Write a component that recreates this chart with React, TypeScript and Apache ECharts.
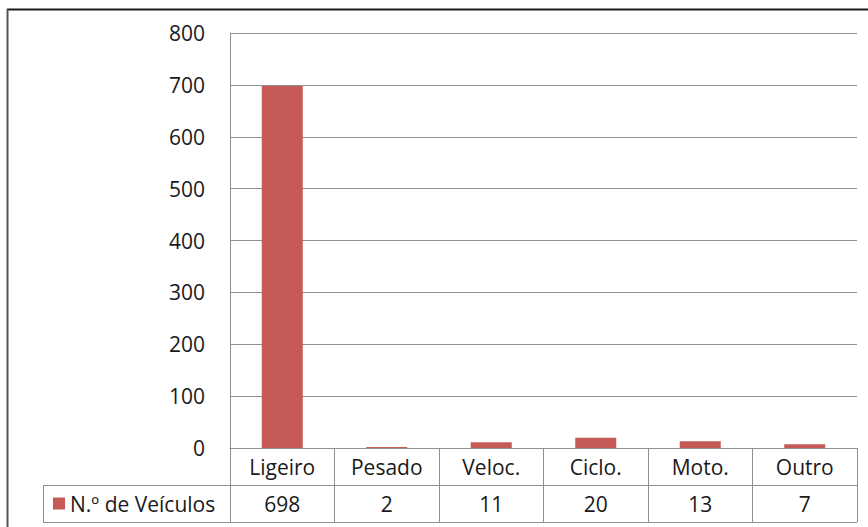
import React, { useEffect, useRef } from "react";
import * as echarts from "echarts";

const categories = ["Ligeiro", "Pesado", "Veloc.", "Ciclo.", "Moto.", "Outro"];
const seriesName = "N.º de Veículos";
const values = [698, 2, 11, 20, 13, 7];
const yMin = 0;
const yMax = 800;
const yStep = 100;

const W = 868;
const H = 527;
const GRID_LEFT = 230;
const GRID_TOP = 33;
const GRID_RIGHT = 11;
const GRID_BOTTOM = 79;
const ROW_H = 37;
const FONT = "'Open Sans', 'Noto Sans', sans-serif";
const LINE = "#8f8f8f";
const TEXT = "#1a1a1a";
const BAR = "#C55A57";

export default function App() {
  const ref = useRef<HTMLDivElement>(null);
  useEffect(() => {
    if (!ref.current) return;
    const chart = echarts.init(ref.current, null, { renderer: "svg" });
    const axisY = H - GRID_BOTTOM;
    const rightX = W - GRID_RIGHT;
    const legendLeft = 43;
    chart.setOption({
      animation: false,
      backgroundColor: "#ffffff",
      textStyle: { fontFamily: FONT },
      grid: { left: GRID_LEFT, top: GRID_TOP, right: GRID_RIGHT, bottom: GRID_BOTTOM, containLabel: false },
      legend: {
        data: [seriesName],
        left: 53,
        top: axisY + ROW_H + ROW_H / 2 - 12,
        padding: 0,
        icon: "rect",
        itemWidth: 12,
        itemHeight: 12,
        itemGap: 0,
        textStyle: { fontFamily: FONT, fontSize: 21, color: TEXT, lineHeight: 24 },
      },
      xAxis: {
        type: "category",
        data: categories,
        boundaryGap: true,
        axisLine: { show: true, lineStyle: { color: LINE, width: 1 } },
        axisTick: { show: true, interval: 0, length: ROW_H * 2, inside: false, lineStyle: { color: LINE, width: 1 } },
        axisLabel: {
          interval: 0,
          margin: 0,
          formatter: (v: string, i: number) => `{a|${v}}\n{b|${values[i]}}`,
          rich: {
            a: { fontFamily: FONT, fontSize: 21, color: TEXT, lineHeight: ROW_H, align: "center" },
            b: { fontFamily: FONT, fontSize: 21, color: TEXT, lineHeight: ROW_H, align: "center" },
          },
        },
      },
      yAxis: {
        type: "value",
        min: yMin,
        max: yMax,
        interval: yStep,
        axisLine: { show: true, lineStyle: { color: LINE, width: 1 } },
        axisTick: { show: false },
        axisLabel: { margin: 25, fontFamily: FONT, fontSize: 21, color: TEXT },
        splitLine: { show: true, lineStyle: { color: LINE, width: 1 } },
      },
      series: [
        {
          name: seriesName,
          type: "bar",
          data: values,
          barWidth: 41,
          itemStyle: { color: BAR },
        },
      ],
      graphic: [
        { type: "line", silent: true, shape: { x1: legendLeft, y1: axisY + ROW_H + 0.5, x2: rightX, y2: axisY + ROW_H + 0.5 }, style: { stroke: LINE, lineWidth: 1 } },
        { type: "line", silent: true, shape: { x1: legendLeft, y1: axisY + ROW_H * 2 + 0.5, x2: rightX, y2: axisY + ROW_H * 2 + 0.5 }, style: { stroke: LINE, lineWidth: 1 } },
        { type: "line", silent: true, shape: { x1: legendLeft + 0.5, y1: axisY + ROW_H, x2: legendLeft + 0.5, y2: axisY + ROW_H * 2 + 1 }, style: { stroke: LINE, lineWidth: 1 } },
        { type: "line", silent: true, shape: { x1: 7, y1: 9.5, x2: W, y2: 9.5 }, style: { stroke: "#1a1a1a", lineWidth: 2 } },
        { type: "line", silent: true, shape: { x1: 7.5, y1: 9, x2: 7.5, y2: H }, style: { stroke: "#555555", lineWidth: 2 } },
      ],
    });
    return () => chart.dispose();
  }, []);
  return <div ref={ref} style={{ position: "absolute", left: 0, top: 0, width: W, height: H }} />;
}
